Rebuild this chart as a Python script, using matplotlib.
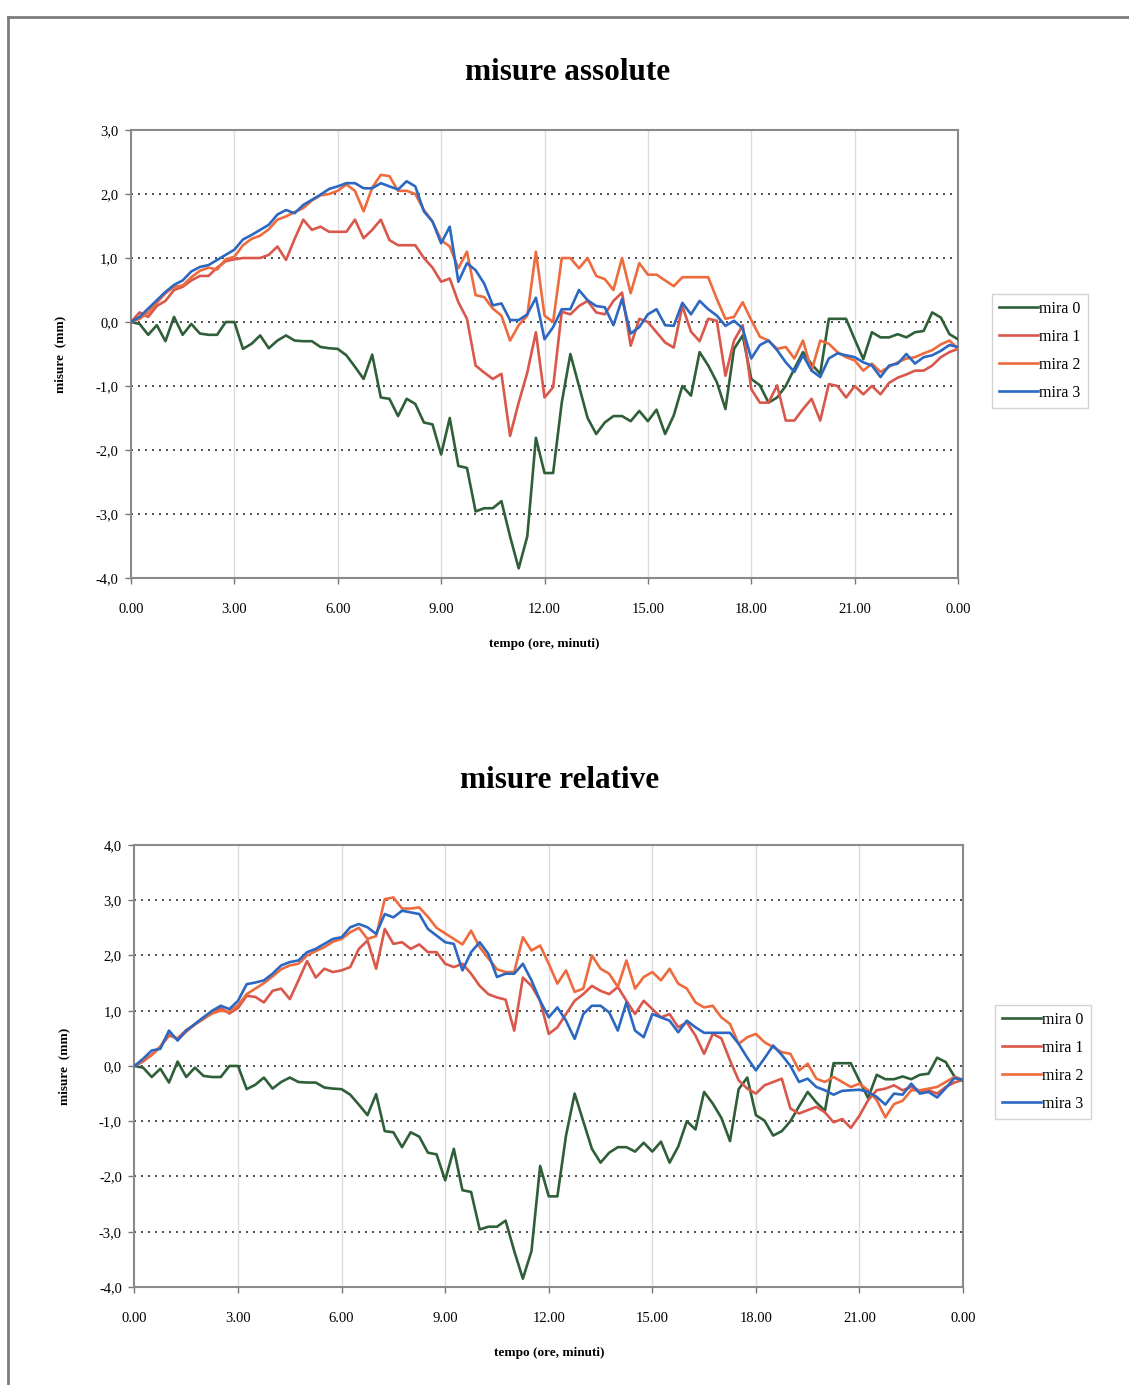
import matplotlib
matplotlib.use('Agg')
import matplotlib.pyplot as plt
from matplotlib.lines import Line2D
from matplotlib.ticker import FuncFormatter

# sampling every 15 minutes over one day
step_h = 0.25
n_samples = 97
hours = [i * step_h for i in range(n_samples)]

x_ticks = [0, 3, 6, 9, 12, 15, 18, 21, 24]
x_tick_labels = ['0.00', '3.00', '6.00', '9.00', '12.00', '15.00', '18.00', '21.00', '0.00']

series_names = ['mira 0', 'mira 1', 'mira 2', 'mira 3']

# mira 0 (reference target), same readings in both plots
mira0 = [0.00, -0.03, -0.20, -0.05, -0.30, 0.08, -0.20, -0.03,
         -0.18, -0.20, -0.20, 0.00, 0.00, -0.42, -0.34, -0.21,
         -0.41, -0.29, -0.21, -0.29, -0.30, -0.30, -0.39, -0.41,
         -0.42, -0.52, -0.70, -0.89, -0.51, -1.18, -1.20, -1.47,
         -1.20, -1.28, -1.57, -1.60, -2.07, -1.50, -2.25, -2.28,
         -2.96, -2.91, -2.91, -2.80, -3.35, -3.85, -3.35, -1.81,
         -2.36, -2.36, -1.26, -0.50, -1.00, -1.50, -1.75, -1.57,
         -1.47, -1.47, -1.55, -1.39, -1.55, -1.37, -1.75, -1.46,
         -1.00, -1.15, -0.47, -0.68, -0.94, -1.36, -0.42, -0.21,
         -0.89, -0.99, -1.26, -1.18, -1.00, -0.73, -0.47, -0.66,
         -0.81, 0.05, 0.05, 0.05, -0.27, -0.58, -0.16, -0.24,
         -0.24, -0.19, -0.24, -0.16, -0.14, 0.15, 0.07, -0.19,
         -0.27]

# misure assolute
abs_mira1 = [0.00, 0.15, 0.08, 0.25, 0.33, 0.50, 0.55, 0.65,
             0.72, 0.72, 0.85, 0.95, 0.98, 1.00, 1.00, 1.00,
             1.05, 1.18, 0.97, 1.30, 1.60, 1.44, 1.49, 1.41,
             1.41, 1.41, 1.60, 1.31, 1.44, 1.60, 1.28, 1.20,
             1.20, 1.20, 1.00, 0.85, 0.63, 0.68, 0.31, 0.05,
             -0.68, -0.79, -0.89, -0.81, -1.78, -1.26, -0.79, -0.16,
             -1.18, -1.02, 0.16, 0.12, 0.25, 0.33, 0.15, 0.12,
             0.33, 0.46, -0.37, 0.05, 0.00, -0.16, -0.32, -0.40,
             0.25, -0.15, -0.30, 0.05, 0.02, -0.84, -0.29, -0.05,
             -1.05, -1.26, -1.26, -0.99, -1.54, -1.54, -1.36, -1.20,
             -1.54, -0.97, -1.00, -1.18, -1.00, -1.13, -1.00, -1.13,
             -0.95, -0.87, -0.82, -0.76, -0.76, -0.68, -0.55, -0.47,
             -0.42]
abs_mira2 = [0.00, 0.05, 0.15, 0.30, 0.45, 0.55, 0.57, 0.70,
             0.80, 0.85, 0.82, 0.98, 1.02, 1.20, 1.30, 1.35,
             1.45, 1.60, 1.65, 1.72, 1.78, 1.90, 1.98, 2.00,
             2.05, 2.15, 2.05, 1.73, 2.10, 2.30, 2.28, 2.05,
             2.05, 2.00, 1.75, 1.57, 1.28, 1.18, 0.84, 1.10,
             0.42, 0.39, 0.21, 0.10, -0.29, -0.05, 0.10, 1.10,
             0.10, 0.00, 1.00, 1.00, 0.84, 1.00, 0.72, 0.67,
             0.50, 1.00, 0.45, 0.92, 0.74, 0.74, 0.65, 0.56,
             0.70, 0.70, 0.70, 0.70, 0.36, 0.05, 0.08, 0.31,
             0.03, -0.23, -0.29, -0.42, -0.39, -0.57, -0.29, -0.76,
             -0.29, -0.34, -0.47, -0.55, -0.60, -0.76, -0.65, -0.78,
             -0.70, -0.63, -0.57, -0.55, -0.49, -0.44, -0.35, -0.29,
             -0.42]
abs_mira3 = [0.00, 0.08, 0.21, 0.34, 0.47, 0.58, 0.65, 0.79,
             0.86, 0.89, 0.97, 1.05, 1.13, 1.29, 1.36, 1.44,
             1.52, 1.68, 1.75, 1.70, 1.83, 1.91, 1.99, 2.08,
             2.12, 2.17, 2.17, 2.09, 2.09, 2.17, 2.12, 2.07,
             2.20, 2.12, 1.73, 1.57, 1.23, 1.49, 0.63, 0.92,
             0.81, 0.60, 0.26, 0.29, 0.03, 0.03, 0.12, 0.38,
             -0.27, -0.08, 0.20, 0.20, 0.50, 0.34, 0.25, 0.23,
             -0.05, 0.36, -0.18, -0.08, 0.12, 0.20, -0.05, -0.06,
             0.30, 0.12, 0.33, 0.20, 0.10, -0.06, 0.02, -0.10,
             -0.57, -0.36, -0.29, -0.44, -0.63, -0.78, -0.52, -0.76,
             -0.86, -0.57, -0.49, -0.52, -0.55, -0.63, -0.68, -0.86,
             -0.68, -0.65, -0.50, -0.65, -0.55, -0.52, -0.45, -0.36,
             -0.39]

# misure relative
rel_mira1 = [0.00, 0.08, 0.20, 0.35, 0.55, 0.50, 0.65, 0.75,
             0.88, 0.95, 1.05, 0.95, 1.05, 1.27, 1.25, 1.15,
             1.36, 1.40, 1.21, 1.55, 1.90, 1.60, 1.76, 1.70,
             1.73, 1.79, 2.12, 2.27, 1.76, 2.48, 2.21, 2.24,
             2.12, 2.20, 2.06, 2.06, 1.85, 1.79, 1.85, 1.67,
             1.45, 1.30, 1.24, 1.20, 0.64, 1.60, 1.45, 1.18,
             0.58, 0.70, 0.94, 1.18, 1.30, 1.45, 1.36, 1.30,
             1.43, 1.18, 0.94, 1.18, 1.03, 0.88, 0.94, 0.70,
             0.79, 0.55, 0.22, 0.58, 0.50, 0.10, -0.26, -0.41,
             -0.50, -0.35, -0.29, -0.23, -0.77, -0.86, -0.80, -0.74,
             -0.84, -1.02, -0.96, -1.12, -0.90, -0.62, -0.44, -0.41,
             -0.35, -0.44, -0.38, -0.45, -0.44, -0.50, -0.38, -0.30,
             -0.25]
rel_mira2 = [0.00, 0.10, 0.20, 0.35, 0.60, 0.48, 0.62, 0.75,
             0.85, 0.95, 1.00, 0.98, 1.10, 1.30, 1.40, 1.50,
             1.62, 1.75, 1.82, 1.85, 2.00, 2.08, 2.15, 2.25,
             2.30, 2.42, 2.50, 2.30, 2.35, 3.02, 3.05, 2.85,
             2.85, 2.87, 2.70, 2.50, 2.40, 2.30, 2.20, 2.45,
             2.15, 1.95, 1.75, 1.70, 1.70, 2.33, 2.09, 2.18,
             1.85, 1.49, 1.73, 1.34, 1.40, 2.00, 1.76, 1.67,
             1.43, 1.91, 1.40, 1.61, 1.70, 1.55, 1.76, 1.49,
             1.40, 1.15, 1.06, 1.09, 0.88, 0.76, 0.40, 0.52,
             0.58, 0.43, 0.34, 0.25, 0.22, -0.08, 0.04, -0.23,
             -0.29, -0.20, -0.29, -0.38, -0.32, -0.44, -0.62, -0.93,
             -0.69, -0.63, -0.44, -0.44, -0.41, -0.38, -0.29, -0.20,
             -0.25]
rel_mira3 = [0.00, 0.13, 0.28, 0.31, 0.64, 0.46, 0.64, 0.76,
             0.88, 1.00, 1.09, 1.03, 1.18, 1.48, 1.51, 1.55,
             1.67, 1.82, 1.88, 1.91, 2.06, 2.12, 2.21, 2.30,
             2.33, 2.51, 2.57, 2.51, 2.39, 2.75, 2.69, 2.81,
             2.78, 2.75, 2.48, 2.36, 2.24, 2.21, 1.73, 2.06,
             2.24, 2.03, 1.61, 1.67, 1.67, 1.85, 1.55, 1.18,
             0.88, 1.06, 0.82, 0.49, 0.94, 1.09, 1.09, 0.97,
             0.64, 1.15, 0.64, 0.52, 0.94, 0.88, 0.82, 0.61,
             0.82, 0.70, 0.60, 0.60, 0.60, 0.60, 0.40, 0.15,
             -0.08, 0.14, 0.37, 0.20, 0.00, -0.29, -0.23, -0.38,
             -0.44, -0.52, -0.45, -0.44, -0.43, -0.47, -0.56, -0.70,
             -0.50, -0.52, -0.32, -0.50, -0.47, -0.57, -0.40, -0.22,
             -0.25]

abs_yticks = [-4, -3, -2, -1, 0, 1, 2, 3]
rel_yticks = [-4, -3, -2, -1, 0, 1, 2, 3, 4]

colors = ['#2f5f38', '#d9574b', '#ee6b3d', '#2c68c2']

plt.rcParams['font.family'] = ['Liberation Serif', 'DejaVu Serif']
plt.rcParams['axes.unicode_minus'] = False


def comma_fmt(v, pos):
    return '{:.1f}'.format(v).replace('.', ',')


def draw_panel(ax, values, yticks, legend_pos):
    for yv in yticks[1:-1]:
        ax.axhline(yv, color='#4d4d4d', lw=1.4, ls=(0, (1, 2.6)), zorder=1)
    for xv in x_ticks[1:-1]:
        ax.axvline(xv, color='#dcdcdc', lw=1.0, zorder=0)
    lines = []
    for name, vals, col in zip(series_names, values, colors):
        ln, = ax.plot(hours, vals, color=col, lw=1.9, label=name, zorder=3)
        lines.append(ln)
    ax.set_xlim(0, 24)
    ax.set_ylim(yticks[0], yticks[-1])
    ax.set_xticks(x_ticks)
    ax.set_xticklabels(x_tick_labels)
    ax.set_yticks(yticks)
    ax.yaxis.set_major_formatter(FuncFormatter(comma_fmt))
    ax.tick_params(axis='both', labelsize=10.5, color='#777777', length=4, width=1)
    ax.tick_params(axis='x', pad=14)
    ax.tick_params(axis='y', pad=5)
    for sp in ax.spines.values():
        sp.set_color('#8a8a8a')
        sp.set_linewidth(1.5)
    ax.set_xlabel('tempo (ore, minuti)', fontsize=9.5, fontweight='bold', labelpad=16)
    ax.set_ylabel('misure  (mm)', fontsize=9.5, fontweight='bold', labelpad=21)
    leg = ax.legend(handles=lines, loc='center left', bbox_to_anchor=legend_pos,
                    bbox_transform=ax.figure.transFigure, fontsize=11.5,
                    frameon=True, fancybox=False, handlelength=2.4,
                    handletextpad=0.1, labelspacing=0.75, borderpad=0.45,
                    borderaxespad=0)
    leg.get_frame().set_edgecolor('#c8c8c8')
    leg.get_frame().set_linewidth(1.0)


fig = plt.figure(figsize=(11.29, 13.85), dpi=100)

ax_top = fig.add_axes([0.116, 0.5827, 0.7326, 0.3234])
draw_panel(ax_top, [mira0, abs_mira1, abs_mira2, abs_mira3], abs_yticks,
           (992 / 1129, 1 - 351 / 1385))

ax_bot = fig.add_axes([0.1191, 0.0708, 0.7339, 0.3191])
draw_panel(ax_bot, [mira0, rel_mira1, rel_mira2, rel_mira3], rel_yticks,
           (995 / 1129, 1 - 1062 / 1385))

fig.text(568 / 1129, 1 - 72 / 1385, 'misure assolute', ha='center', va='center',
         fontsize=22.5, fontweight='bold')
fig.text(560 / 1129, 1 - 780 / 1385, 'misure relative', ha='center', va='center',
         fontsize=22.5, fontweight='bold')

# page border
fig.add_artist(Line2D([8 / 1129, 1.0], [1 - 17 / 1385, 1 - 17 / 1385],
                      transform=fig.transFigure, color='#7d7d7d', lw=2))
fig.add_artist(Line2D([8 / 1129, 8 / 1129], [0.0, 1 - 17 / 1385],
                      transform=fig.transFigure, color='#7d7d7d', lw=2))

fig.savefig('out.png', dpi=100)
